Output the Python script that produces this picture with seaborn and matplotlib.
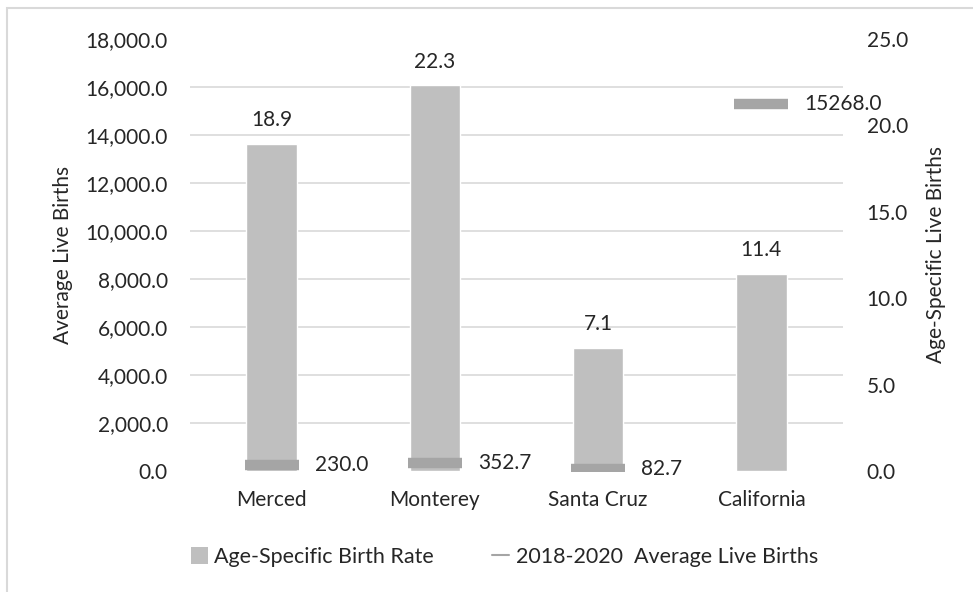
import numpy as np
import pandas as pd
import matplotlib
matplotlib.use("Agg")
import matplotlib.pyplot as plt
from matplotlib.lines import Line2D
from matplotlib.patches import Patch, Rectangle
from matplotlib.ticker import FuncFormatter
import seaborn as sns

# Data
counties = ["Merced", "Monterey", "Santa Cruz", "California"]
birth_rate = [18.9, 22.3, 7.1, 11.4]
avg_live_births = [230.0, 352.7, 82.7, 15268.0]
births_ticks = [0, 2000, 4000, 6000, 8000, 10000, 12000, 14000, 16000, 18000]
rate_ticks = [0, 5, 10, 15, 20, 25]

BAR = "#bfbfbf"
MARK = "#a5a5a5"
GRID = "#d9d9d9"
TEXT = "#262626"
FS = 15

sns.set_theme(style="white")
plt.rcParams["font.family"] = ["Lato", "DejaVu Sans"]
plt.rcParams["text.color"] = TEXT
plt.rcParams["axes.labelcolor"] = TEXT
plt.rcParams["xtick.color"] = TEXT
plt.rcParams["ytick.color"] = TEXT

fig = plt.figure(figsize=(9.73, 5.92), dpi=100)
ax = fig.add_axes([0.1953, 0.2044, 0.6711, 0.7302])
ax2 = ax.twinx()

df = pd.DataFrame({"County": counties, "Rate": birth_rate, "Births": avg_live_births})

# Bars: age-specific birth rate (right-hand scale)
sns.barplot(data=df, x="County", y="Rate", color=BAR, width=0.31,
            saturation=1, ax=ax, zorder=2)
ax.set_xlim(-0.5, len(counties) - 0.5)
ax.set_ylim(rate_ticks[0], rate_ticks[-1])
ax.set_yticks(rate_ticks)
ax.set_yticks(np.linspace(rate_ticks[0], rate_ticks[-1], len(births_ticks)), minor=True)
ax.yaxis.set_major_formatter(FuncFormatter(lambda v, _: f"{v:.1f}"))
ax.yaxis.set_minor_formatter(FuncFormatter(lambda v, _: ""))
ax.yaxis.tick_right()
ax.yaxis.set_label_position("right")
ax.grid(False)
ax.grid(True, axis="y", which="minor", color=GRID, linewidth=1.2, zorder=0)
ax.set_axisbelow(True)
ax.tick_params(axis="y", which="both", length=0, pad=17, labelsize=FS,
               labelright=True, labelleft=False)
ax.tick_params(axis="x", length=0, pad=14, labelsize=FS)
ax.set_xlabel("")
ax.set_ylabel("Age-Specific Live Births", fontsize=FS, labelpad=13)
ax.bar_label(ax.containers[0], fmt="%.1f", padding=10, fontsize=FS, color=TEXT)

# Markers: average live births (left-hand scale)
ax2.plot(np.arange(len(counties)), avg_live_births, linestyle="none",
         marker="_", markersize=39, markeredgewidth=7.5, color=MARK, zorder=3)
ax2.set_ylim(births_ticks[0], births_ticks[-1])
ax2.set_yticks(births_ticks)
ax2.yaxis.set_major_formatter(FuncFormatter(lambda v, _: f"{v:,.1f}"))
ax2.yaxis.tick_left()
ax2.yaxis.set_label_position("left")
ax2.tick_params(axis="y", length=0, pad=16, labelsize=FS,
                labelleft=True, labelright=False)
ax2.set_ylabel("Average Live Births", fontsize=FS, labelpad=9)
ax2.grid(False)
for i, v in enumerate(avg_live_births):
    ax2.annotate(f"{v:.1f}", (i, v), xytext=(31, 0), textcoords="offset points",
                 va="center", ha="left", fontsize=FS, color=TEXT)

for a in (ax, ax2):
    for s in a.spines.values():
        s.set_visible(False)

# Legend
handles = [Patch(facecolor=BAR, edgecolor="none"),
           Line2D([], [], color=MARK, linewidth=1.5)]
labels = ["Age-Specific Birth Rate", "2018-2020  Average Live Births"]
fig.legend(handles, labels, loc="center left", bbox_to_anchor=(0.176, 0.059),
           ncol=2, frameon=False, handlelength=0.8, handleheight=0.8,
           handletextpad=0.3, columnspacing=2.7, fontsize=15.5)

# Chart-area border
fig.add_artist(Rectangle((7 / 973, -0.5), 2, 1.5 - 8 / 592, transform=fig.transFigure,
                         fill=False, edgecolor=GRID, linewidth=1.5))

fig.savefig("out.png", dpi=100)
